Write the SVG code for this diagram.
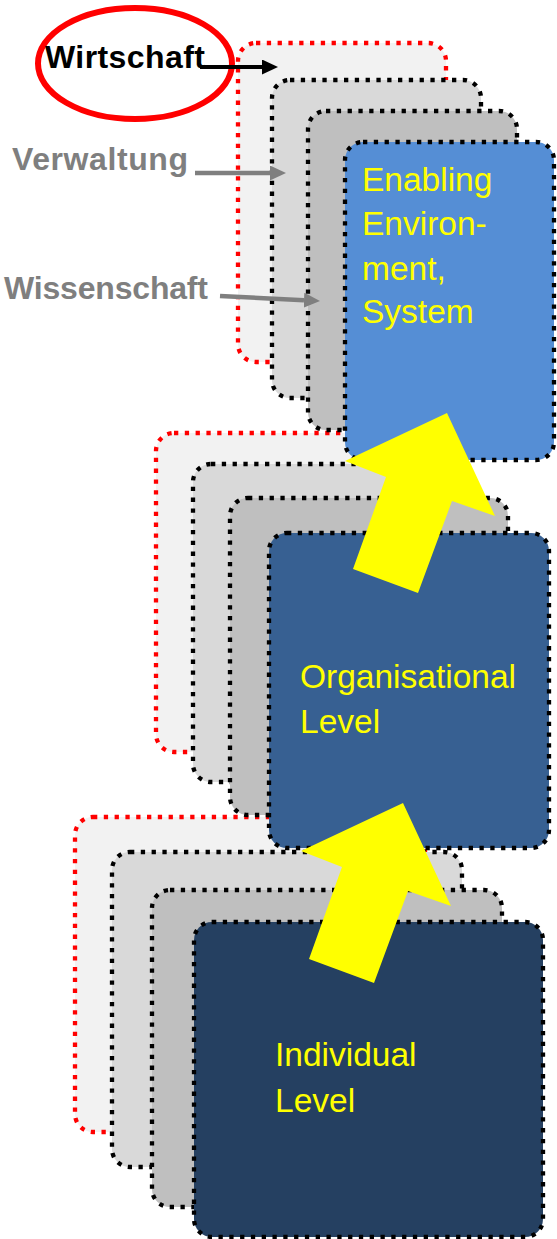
<svg xmlns="http://www.w3.org/2000/svg" width="557" height="1239" viewBox="0 0 557 1239">
<style>
.b{stroke-width:4.3;stroke-dasharray:4.3 6.5;}
.red{fill:#f2f2f2;stroke:#ff0000;}
.l2{fill:#d9d9d9;stroke:#000;}
.l3{fill:#bfbfbf;stroke:#000;}
.top{fill:#558ed5;stroke:#000;}
.mid{fill:#376092;stroke:#000;}
.bot{fill:#254061;stroke:#000;}
.nt{font-family:"Liberation Sans",Arial,sans-serif;font-size:33.5px;fill:#ffff00;}
.lab{font-family:"Liberation Sans",Arial,sans-serif;font-size:32px;font-weight:bold;}
.up{fill:#ffff00;stroke:none;}
</style>
<defs>
<marker id="hk" markerUnits="userSpaceOnUse" markerWidth="17" markerHeight="16" refX="0" refY="7.5" orient="auto">
<path d="M0,0 L16,7.5 L0,15 z" fill="#000"/>
</marker>
<marker id="hg" markerUnits="userSpaceOnUse" markerWidth="17" markerHeight="16" refX="0" refY="7.5" orient="auto">
<path d="M0,0 L16,7.5 L0,15 z" fill="#7f7f7f"/>
</marker>
</defs>

<g id="individual-group">
<rect class="b red" x="75" y="817" width="350" height="315" rx="18"/>
<rect class="b l2" x="112" y="852" width="350" height="315" rx="18"/>
<rect class="b l3" x="152" y="890" width="350" height="317" rx="18"/>
<g id="individual-level">
<rect class="b bot" x="194" y="922" width="349" height="315" rx="18"/>
<text class="nt" x="275" y="1066">Individual</text>
<text class="nt" x="275" y="1112">Level</text>
</g>
</g>

<g id="organisational-group">
<rect class="b red" x="156" y="433" width="278" height="319" rx="18"/>
<rect class="b l2" x="193" y="464" width="278" height="318" rx="18"/>
<rect class="b l3" x="230" y="498" width="278" height="317" rx="18"/>
<g id="organisational-level">
<rect class="b mid" x="269" y="533" width="280" height="315" rx="18"/>
<text class="nt" x="300" y="688">Organisational</text>
<text class="nt" x="300" y="733">Level</text>
</g>
</g>

<g id="system-group">
<rect class="b red" x="238" y="43" width="208" height="319" rx="18"/>
<rect class="b l2" x="272" y="80" width="209" height="318" rx="18"/>
<rect class="b l3" x="308" y="111" width="209" height="319" rx="18"/>
<g id="enabling-environment">
<rect class="b top" x="345" y="142" width="209" height="318" rx="18"/>
<text class="nt" x="362" y="191">Enabling</text>
<text class="nt" x="362" y="235">Environ-</text>
<text class="nt" x="362" y="280">ment,</text>
<text class="nt" x="362" y="323">System</text>
</g>
</g>

<g id="connectors">
<polygon class="up" points="447,413 495,516 452,501 418,593 353,569 386,477 345,461"/>
<polygon class="up" points="403,803 451,906 408,891 374,983 309,959 342,867 301,851"/>
<ellipse cx="135" cy="63.5" rx="97" ry="55.5" fill="none" stroke="#ff0000" stroke-width="6"/>
<line x1="200" y1="67" x2="262" y2="67" stroke="#000" stroke-width="4" marker-end="url(#hk)"/>
<line x1="195" y1="173" x2="270" y2="173" stroke="#7f7f7f" stroke-width="4.5" marker-end="url(#hg)"/>
<line x1="220" y1="296" x2="304" y2="300.2" stroke="#7f7f7f" stroke-width="4.5" marker-end="url(#hg)"/>
</g>

<g id="labels">
<text class="lab" x="45" y="68" fill="#000" textLength="160">Wirtschaft</text>
<text class="lab" x="12" y="170" fill="#7f7f7f" textLength="176">Verwaltung</text>
<text class="lab" x="4" y="299" fill="#7f7f7f" textLength="204">Wissenschaft</text>
</g>
</svg>
